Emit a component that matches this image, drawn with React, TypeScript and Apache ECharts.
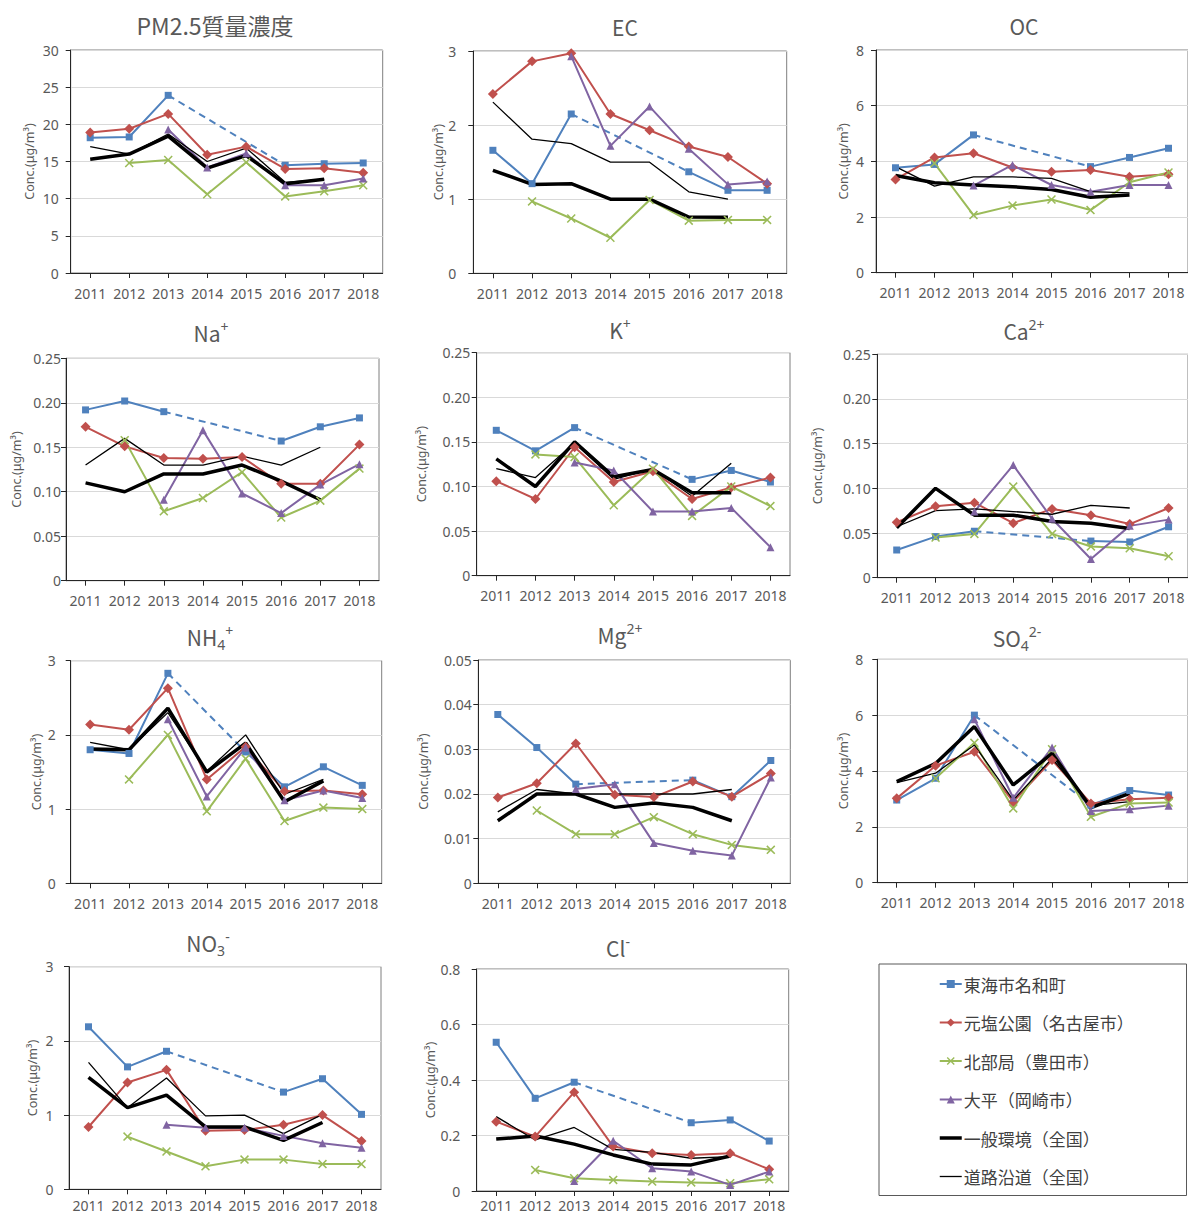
import React, { useEffect, useRef } from 'react';
import * as echarts from 'echarts';

const YEARS = ['2011', '2012', '2013', '2014', '2015', '2016', '2017', '2018'];
const STATIONS = ['東海市名和町', '元塩公園（名古屋市）', '北部局（豊田市）', '大平（岡崎市）', '一般環境（全国）', '道路沿道（全国）'];

type V = number | null;
// order per panel: 東海市, 元塩公園, 北部局, 大平, 一般環境, 道路沿道
const PM25: V[][] = [
  [18.2, 18.3, 23.9, null, null, 14.5, 14.7, 14.8],
  [18.9, 19.4, 21.4, 15.9, 17.0, 14.0, 14.1, 13.5],
  [null, 14.8, 15.2, 10.6, 14.9, 10.3, 11.0, 11.8],
  [null, null, 19.3, 14.2, 16.1, 11.8, 11.8, 12.7],
  [15.3, 16.0, 18.4, 14.1, 15.8, 12.0, 12.6, null],
  [17.0, 16.0, 18.7, 15.0, 16.8, 12.2, 12.6, null],
];
const EC: V[][] = [
  [1.66, 1.21, 2.15, null, null, 1.37, 1.12, 1.12],
  [2.42, 2.86, 2.97, 2.15, 1.93, 1.71, 1.57, 1.21],
  [null, 0.97, 0.74, 0.48, 0.99, 0.71, 0.72, 0.72],
  [null, null, 2.93, 1.72, 2.25, 1.68, 1.20, 1.24],
  [1.39, 1.20, 1.21, 1.00, 1.00, 0.76, 0.755, null],
  [2.31, 1.81, 1.75, 1.50, 1.50, 1.10, 1.00, null],
];
const OC: V[][] = [
  [3.77, 3.89, 4.95, null, null, 3.81, 4.14, 4.47],
  [3.35, 4.14, 4.29, 3.78, 3.63, 3.69, 3.45, 3.54],
  [null, 3.93, 2.07, 2.41, 2.63, 2.25, 3.25, 3.60],
  [null, null, 3.13, 3.87, 3.15, 2.91, 3.15, 3.15],
  [3.49, 3.23, 3.15, 3.09, 2.99, 2.71, 2.79, null],
  [3.81, 3.11, 3.44, 3.44, 3.39, 2.91, 2.87, null],
];
const NA: V[][] = [
  [0.192, 0.202, 0.190, null, null, 0.157, 0.173, 0.183],
  [0.173, 0.151, 0.138, 0.137, 0.139, 0.109, 0.109, 0.153],
  [null, 0.158, 0.078, 0.093, 0.122, 0.071, 0.090, 0.126],
  [null, null, 0.091, 0.169, 0.098, 0.076, 0.108, 0.131],
  [0.110, 0.100, 0.120, 0.120, 0.130, 0.112, 0.091, null],
  [0.130, 0.160, 0.130, 0.130, 0.140, 0.130, 0.150, null],
];
const K: V[][] = [
  [0.163, 0.140, 0.166, null, null, 0.108, 0.118, 0.105],
  [0.106, 0.086, 0.144, 0.105, 0.117, 0.086, 0.099, 0.110],
  [null, 0.136, 0.133, 0.079, 0.120, 0.067, 0.100, 0.078],
  [null, null, 0.127, 0.118, 0.072, 0.072, 0.076, 0.032],
  [0.131, 0.100, 0.150, 0.111, 0.119, 0.093, 0.093, null],
  [0.120, 0.110, 0.149, 0.108, 0.120, 0.089, 0.126, null],
];
const CA: V[][] = [
  [0.031, 0.046, 0.052, null, null, 0.041, 0.040, 0.057],
  [0.062, 0.080, 0.084, 0.061, 0.077, 0.070, 0.060, 0.078],
  [null, 0.045, 0.049, 0.102, 0.049, 0.035, 0.033, 0.024],
  [null, null, 0.074, 0.126, 0.066, 0.021, 0.058, 0.065],
  [0.056, 0.100, 0.070, 0.070, 0.063, 0.061, 0.055, null],
  [0.057, 0.075, 0.077, 0.074, 0.071, 0.081, 0.078, null],
];
const NH4: V[][] = [
  [1.80, 1.75, 2.83, null, 1.77, 1.30, 1.57, 1.32],
  [2.14, 2.07, 2.63, 1.40, 1.84, 1.24, 1.25, 1.20],
  [null, 1.40, 2.00, 0.97, 1.68, 0.84, 1.02, 1.00],
  [null, null, 2.21, 1.17, 1.83, 1.12, 1.25, 1.15],
  [1.81, 1.80, 2.36, 1.50, 1.89, 1.10, 1.38, null],
  [1.90, 1.80, 2.30, 1.51, 2.00, 1.20, 1.40, null],
];
const MG: V[][] = [
  [0.0378, 0.0304, 0.0222, null, null, 0.0231, 0.0194, 0.0275],
  [0.0192, 0.0224, 0.0313, 0.0198, 0.0193, 0.0228, 0.0194, 0.0246],
  [null, 0.0163, 0.0110, 0.0110, 0.0148, 0.0110, 0.0086, 0.0075],
  [null, null, 0.0211, 0.0222, 0.0090, 0.0073, 0.0062, 0.0237],
  [0.0140, 0.0200, 0.0200, 0.0170, 0.0180, 0.0170, 0.0140, null],
  [0.0160, 0.0210, 0.0200, 0.0200, 0.0200, 0.0200, 0.0210, null],
];
const SO4: V[][] = [
  [2.96, 3.74, 6.00, null, null, 2.78, 3.30, 3.14],
  [3.02, 4.19, 4.69, 2.90, 4.39, 2.84, 2.99, 3.04],
  [null, 3.74, 5.01, 2.66, 4.78, 2.36, 2.84, 2.87],
  [null, null, 5.85, 3.04, 4.84, 2.57, 2.63, 2.76],
  [3.62, 4.27, 5.59, 3.50, 4.63, 2.69, 3.20, null],
  [3.58, 3.92, 4.93, 2.96, 4.45, 2.76, 2.90, null],
];
const NO3: V[][] = [
  [2.19, 1.65, 1.86, null, null, 1.31, 1.49, 1.01],
  [0.84, 1.44, 1.61, 0.79, 0.80, 0.87, 1.00, 0.65],
  [null, 0.71, 0.51, 0.31, 0.40, 0.40, 0.34, 0.34],
  [null, null, 0.87, 0.83, 0.83, 0.72, 0.62, 0.56],
  [1.51, 1.10, 1.27, 0.84, 0.84, 0.66, 0.90, null],
  [1.71, 1.10, 1.50, 0.99, 1.00, 0.75, 1.01, null],
];
const CL: V[][] = [
  [0.536, 0.334, 0.392, null, null, 0.246, 0.256, 0.180],
  [0.250, 0.196, 0.356, 0.160, 0.136, 0.130, 0.136, 0.078],
  [null, 0.076, 0.046, 0.040, 0.034, 0.031, 0.028, 0.042],
  [null, null, 0.036, 0.181, 0.082, 0.070, 0.022, 0.070],
  [0.187, 0.198, 0.169, 0.130, 0.097, 0.094, 0.126, null],
  [0.268, 0.184, 0.229, 0.150, 0.139, 0.118, 0.124, null],
];

const TITLES = [
  '{m|PM2.5質量濃度}', '{m|EC}', '{m|OC}', '{m|Na}{sup|+}', '{m|K}{sup|+}', '{m|Ca}{sup|2+}',
  '{m|NH}{sub|4}{sup|+}', '{m|Mg}{sup|2+}', '{m|SO}{sub|4}{sup|2-}', '{m|NO}{sub|3}{sup|-}', '{m|Cl}{sup|-}',
];
const Y_MAX = [30, 3, 8, 0.25, 0.25, 0.25, 3, 0.05, 8, 3, 0.8];
const Y_STEP = [5, 1, 2, 0.05, 0.05, 0.05, 1, 0.01, 2, 1, 0.2];
const Y_DEC = [0, 0, 0, 2, 2, 2, 0, 2, 0, 0, 1];
const DATA = [PM25, EC, OC, NA, K, CA, NH4, MG, SO4, NO3, CL];

// layout: [left, top, width, height, titleX, titleY, yLabelMargin, nameGap, xLabelMargin]
const LAYOUT = [
  [70.7, 50, 312, 223, 215, 25, 12, 35, 13],
  [473.3, 51, 313.4, 222.3, 625, 27, 17, 27, 13],
  [876, 50, 312, 222.7, 1024, 26, 12, 26, 13],
  [66, 358.3, 313, 222.4, 211, 333, 5, 43, 13],
  [476.7, 352.7, 313.3, 223, 620, 330, 6.5, 49, 13],
  [877.3, 354.3, 312, 223.4, 1024, 331, 6.5, 53.5, 13],
  [70.7, 660.7, 311, 222.6, 210, 637, 15, 27.5, 13],
  [478.3, 660, 312, 223.3, 620, 635, 6.5, 48.5, 13],
  [877.3, 659.3, 312, 223.4, 1017, 638, 14, 28, 13],
  [69, 966.7, 312, 222.6, 208, 943, 15.5, 30, 9],
  [476.7, 969, 312, 222, 618, 948, 16.5, 40, 7],
];

const COLORS = ['#4F81BD', '#C0504D', '#9BBB59', '#8064A2', '#000000', '#000000'];
const X_PATH = 'path://M0,1.2L1.2,0L5,3.8L8.8,0L10,1.2L6.2,5L10,8.8L8.8,10L5,6.2L1.2,10L0,8.8L3.8,5Z';
const SYMBOLS = ['rect', 'diamond', X_PATH, 'triangle', 'none', 'none'];
const SYMBOL_SIZES = [7, 10, 9, 8, 0, 0];
const LINE_WIDTHS = [2, 2, 2, 2, 3.5, 1.3];

const FONT = "'Noto Sans', 'Noto Sans CJK JP', sans-serif";
const CJK = "'Noto Sans CJK JP', 'Noto Sans', sans-serif";
const TXT = '#595959';

function gapSeries(d: V[]): V[] {
  const out: V[] = d.map(() => null);
  for (let i = 0; i < d.length - 1; i++) {
    if (d[i] != null && d[i + 1] == null) {
      let j = i + 1;
      while (j < d.length && d[j] == null) j++;
      if (j < d.length) {
        out[i] = d[i];
        out[j] = d[j];
      }
    }
  }
  return out;
}

function buildOption() {
  const grid: any[] = [];
  const xAxis: any[] = [];
  const yAxis: any[] = [];
  const series: any[] = [];
  const graphic: any[] = [];

  DATA.forEach((panel, p) => {
    const [left, top, width, height, tx, ty, lm, ng, xm] = LAYOUT[p];
    grid.push({ left, top, width, height, show: true, borderColor: '#7f7f7f', borderWidth: 1, backgroundColor: 'transparent' });
    xAxis.push({
      type: 'category', gridIndex: p, data: YEARS, boundaryGap: true,
      axisLine: { lineStyle: { color: '#262626', width: 1 } },
      axisTick: { show: true, alignWithLabel: true, length: 5, lineStyle: { color: '#262626' } },
      axisLabel: { color: TXT, fontSize: 14, margin: xm, interval: 0, fontFamily: FONT },
      splitLine: { show: false },
    });
    const dec = Y_DEC[p];
    yAxis.push({
      type: 'value', gridIndex: p, min: 0, max: Y_MAX[p], interval: Y_STEP[p],
      axisLine: { show: true, lineStyle: { color: '#262626', width: 1 } },
      axisTick: { show: true, length: 5, lineStyle: { color: '#262626' } },
      axisLabel: {
        color: TXT, fontSize: 14, margin: lm, fontFamily: FONT,
        formatter: (v: number) => (v === 0 ? '0' : v.toFixed(dec)),
      },
      splitLine: { show: true, lineStyle: { color: '#d9d9d9', width: 1 } },
      name: 'Conc.(μg/m³)', nameLocation: 'middle', nameGap: ng, nameRotate: 90,
      nameTextStyle: { color: TXT, fontSize: 12.5, fontFamily: FONT },
    });
    panel.forEach((d, s) => {
      series.push({
        type: 'line', name: STATIONS[s], xAxisIndex: p, yAxisIndex: p, data: d,
        symbol: SYMBOLS[s], symbolSize: SYMBOL_SIZES[s], showSymbol: SYMBOLS[s] !== 'none',
        connectNulls: false,
        lineStyle: { color: COLORS[s], width: LINE_WIDTHS[s] },
        itemStyle: { color: COLORS[s] },
        emphasis: { disabled: true },
      });
      if (s === 0) {
        series.push({
          type: 'line', name: 'gap-' + p, xAxisIndex: p, yAxisIndex: p, data: gapSeries(d),
          symbol: 'none', showSymbol: false, connectNulls: true,
          lineStyle: { color: COLORS[0], width: 2, type: [7, 5] },
          emphasis: { disabled: true },
        });
      }
    });
    graphic.push({
      type: 'text', x: tx, y: ty, silent: true,
      style: {
        text: TITLES[p], align: 'center', verticalAlign: 'middle', fill: TXT,
        rich: {
          m: { fontSize: p === 0 ? 23 : 21, fontFamily: CJK, fill: TXT, color: TXT, lineHeight: 28 },
          sup: { fontSize: 14, fontFamily: FONT, color: TXT, verticalAlign: 'top', lineHeight: 16 },
          sub: { fontSize: 14, fontFamily: FONT, color: TXT, verticalAlign: 'bottom', lineHeight: 14 },
        },
      },
    });
  });

  graphic.push({
    type: 'rect', silent: true,
    shape: { x: 879, y: 964, width: 307.5, height: 231.5 },
    style: { fill: 'none', stroke: '#595959', lineWidth: 1 },
  });

  const legendData = STATIONS.map((n, i) =>
    i >= 4
      ? { name: n, itemStyle: { opacity: 0 }, lineStyle: { width: LINE_WIDTHS[i], color: '#000' } }
      : { name: n }
  );

  return {
    animation: false,
    backgroundColor: '#ffffff',
    grid, xAxis, yAxis, series, graphic,
    legend: {
      data: legendData, orient: 'vertical', left: 938, top: 974, padding: 0,
      itemWidth: 22, itemHeight: 10, itemGap: 18.5, selectedMode: false,
      textStyle: { fontSize: 17, lineHeight: 20, color: '#404040', fontFamily: CJK, padding: [0, 0, 0, -3] },
    },
  };
}

export default function App() {
  const ref = useRef<HTMLDivElement>(null);
  useEffect(() => {
    if (!ref.current) return;
    const chart = echarts.init(ref.current, undefined, { renderer: 'svg' });
    chart.setOption(buildOption() as any);
    return () => chart.dispose();
  }, []);
  return (
    <div
      ref={ref}
      style={{ position: 'absolute', left: 0, top: 0, width: 1188, height: 1218, background: '#fff' }}
    />
  );
}
